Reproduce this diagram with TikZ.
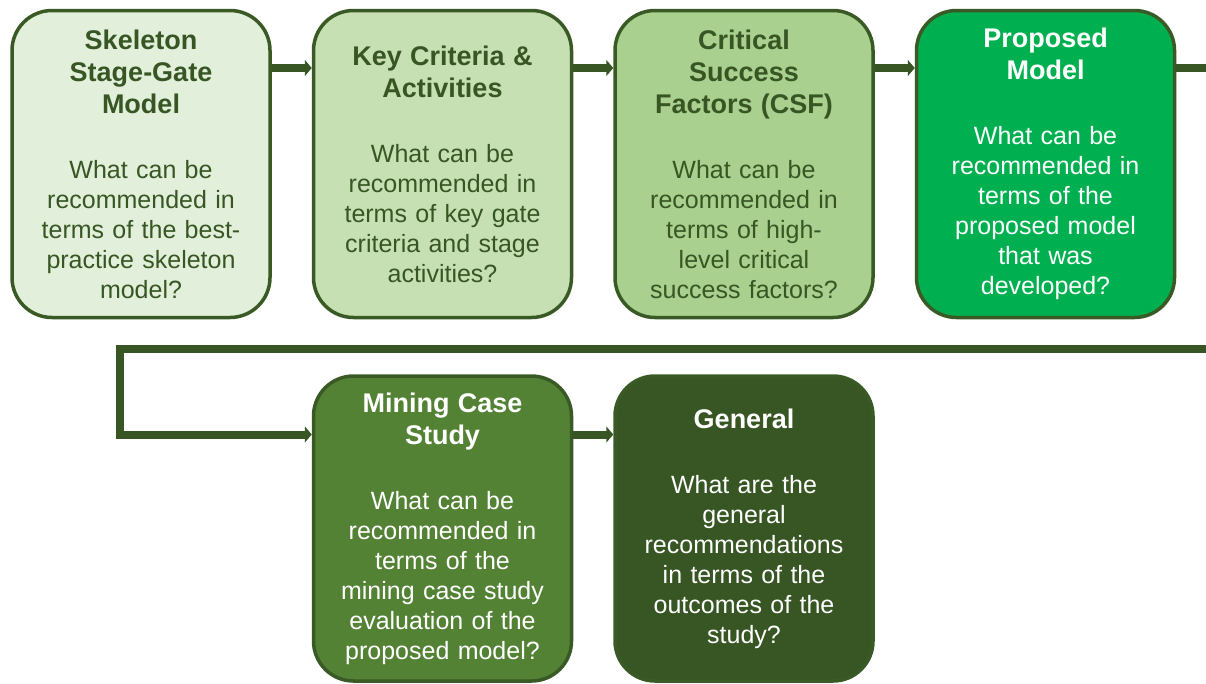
\documentclass[tikz,border=0pt]{standalone}
\usepackage{fontspec}
\setmainfont{Liberation Sans}
\usetikzlibrary{arrows.meta,positioning}
\definecolor{Mint}{HTML}{E2EFDA}
\definecolor{Sage}{HTML}{C6E0B4}
\definecolor{Moss}{HTML}{A9D08E}
\definecolor{Vivid}{HTML}{00B050}
\definecolor{Olive}{HTML}{548235}
\definecolor{Forest}{HTML}{375623}
\definecolor{Rim}{HTML}{3A5A25}
\newcommand{\stagetitle}[1]{{\fontsize{27}{32}\selectfont\bfseries #1\par}\vspace{35pt}}
\tikzset{
  stage/.style={
    rounded corners=40pt,draw=Rim,line width=3.5pt,
    minimum width=258pt,minimum height=307pt,inner sep=0pt,
    text width=236pt,align=center,text=Forest,
    font=\fontsize{25}{30}\selectfont
  },
  link/.style={-{Triangle[length=7pt,width=16pt]},line width=8pt,draw=Forest},
  pipe/.style={line width=8pt,draw=Forest}
}
\begin{document}
\begin{tikzpicture}[x=1pt,y=-1pt,node distance=40pt]
  \useasboundingbox (0,0) rectangle (1206,683);
  \node[stage,fill=Mint] (skel) at (141,164) {
    \stagetitle{Skeleton\\Stage-Gate\\Model}
    What can be\\recommended in\\terms of the best-\\practice skeleton\\model?
  };
  \node[stage,fill=Sage,right=of skel] (keys) {
    \stagetitle{Key Criteria \&\\Activities}
    What can be\\recommended in\\terms of key gate\\criteria and stage\\activities?
  };
  \node[stage,fill=Moss,right=of keys] (csf) {
    \stagetitle{Critical\\Success\\Factors (CSF)}
    What can be\\recommended in\\terms of high-\\level critical\\success factors?
  };
  \node[stage,fill=Vivid,text=white,right=of csf] (model) {
    \stagetitle{Proposed\\Model}
    What can be\\recommended in\\terms of the\\proposed model\\that was\\developed?
  };
  \node[stage,fill=Olive,text=white,minimum height=305pt,below=55pt of keys] (mine) {
    \stagetitle{Mining Case\\Study}
    What can be\\recommended in\\terms of the\\mining case study\\evaluation of the\\proposed model?
  };
  \node[stage,fill=Forest,text=white,minimum height=305pt,right=of mine] (general) {
    \stagetitle{General}
    What are the\\general\\recommendations\\in terms of the\\outcomes of the\\study?
  };

  \draw[link] ([yshift=96pt]skel.east) -- ([yshift=96pt]keys.west);
  \draw[link] ([yshift=96pt]keys.east) -- ([yshift=96pt]csf.west);
  \draw[link] ([yshift=96pt]csf.east) -- ([yshift=96pt]model.west);
  \draw[link] ([yshift=94pt]mine.east) -- ([yshift=94pt]general.west);

  % wrap round to the second row
  \coordinate (edgeA) at (1206,68);
  \coordinate (edgeB) at (1206,349);
  \coordinate (turn) at (120,349);
  \draw[pipe] ([yshift=96pt]model.east) -- (edgeA);
  \draw[link] (edgeB) -- (turn) |- ([yshift=94pt]mine.west);
\end{tikzpicture}
\end{document}
